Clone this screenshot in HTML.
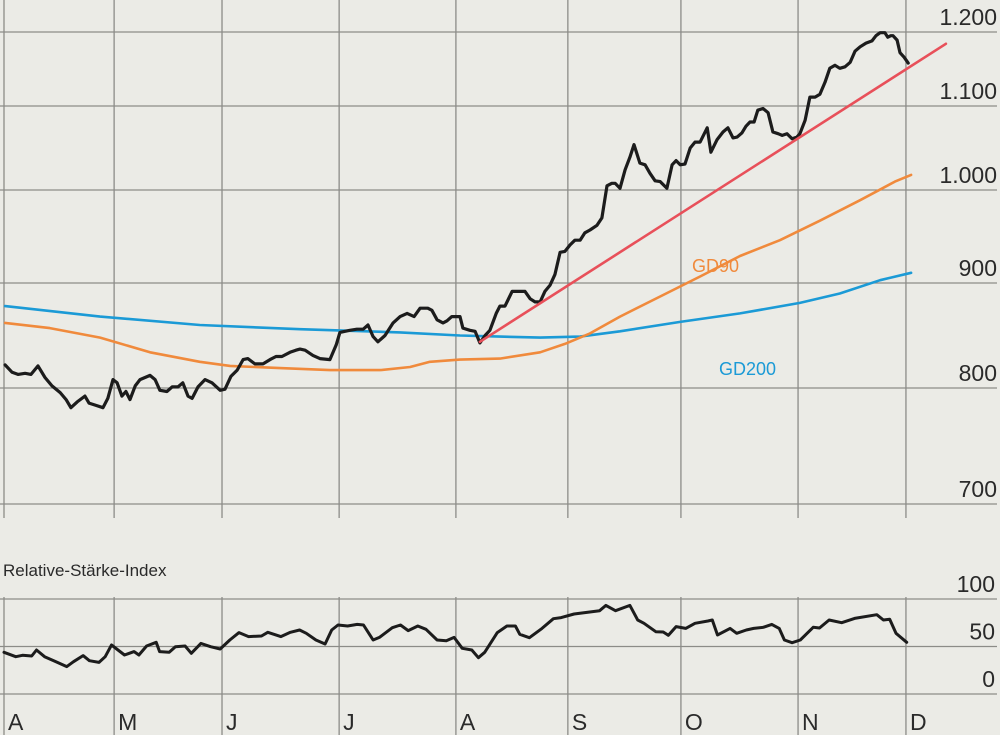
<!DOCTYPE html>
<html><head><meta charset="utf-8"><style>
html,body{margin:0;padding:0;background:#ebebe6;}
svg{display:block;font-family:"Liberation Sans Narrow","Liberation Sans",sans-serif;}
</style></head><body>
<svg id="c" width="1000" height="735" viewBox="0 0 1000 735">
<rect width="1000" height="735" fill="#ebebe6"/>
<g id="grid"></g>
<g id="marks"></g>
<g id="labels"></g>
</svg>
<script>
const priceTicks=[1200,1100,1000,900,800,700];
const priceTickLabels=["1.200","1.100","1.000","900","800","700"];
const months=["A","M","J","J","A","S","O","N","D"];
const monthStartDays=[0,29.8,59,90.7,122.3,152.6,183.2,214.9,244.1];
const rsiTicks=[100,50,0];
const priceDays=[0.3,2.2,3.8,5.7,7.3,9.2,11.1,13,15.2,16.8,18.1,19.8,21.9,23,24.9,26.8,28.1,29.5,30.6,31.9,33,34.1,35.5,36.8,39.5,40.9,42.2,44.1,45.5,47.1,48.4,49.8,50.9,52.5,54.4,56.3,58.5,59.8,61.4,63.1,64.7,66,67.9,70.1,72,73.6,75.2,77.4,79,80.1,81.5,83.6,85.5,88.2,89.9,90.9,92.3,93.6,95.5,97.2,98.5,99.9,101.2,103.1,105.3,107.2,109.1,111,112.6,114.7,115.8,117.2,118.8,119.9,121.2,123.4,124.2,126.1,127.5,128.8,130.2,131.5,133.2,134.2,135.6,137.5,139.6,141,142.4,143.7,145.1,146.4,147.8,149.1,150.5,151.8,153.2,154.5,155.9,157.2,158.6,160.5,161.8,163.2,164.5,165.4,166.7,168.1,169.4,170.5,172.1,173.5,174.8,176.2,177.6,179.4,180.8,181.9,183,184.3,185.7,187,188.4,190.3,191.3,193,194.6,195.9,197.3,198.4,199.7,200.8,201.9,203,204,205.4,206.8,208.1,209.5,210.6,211.9,213.3,214.6,215.4,216.8,218.1,219.5,220.8,222.2,223.5,224.9,226.2,227.6,229,230.3,231.7,233.3,234.9,236,237.1,238.4,239.2,240,240.6,241.7,242.5,243.6,244.7];
const priceValues=[822,815,813,814,813,821,810,802,796,790,783,788,793,787,785,783,791,808,805,793,797,790,802,808,812,808,798,797,801,801,805,793,791,801,808,805,798,799,811,817,827,828,823,823,827,830,830,834,836,837,836,831,828,827,841,853,854,855,856,856,860,849,844,850,862,868,871,868,876,876,874,865,862,864,868,868,857,855,854,843,850,855,871,878,878,892,892,892,885,882,882,892,898,909,933,934,941,946,946,954,957,962,970,1005,1008,1008,1002,1024,1039,1054,1032,1030,1020,1011,1010,1002,1030,1035,1030,1031,1050,1057,1057,1074,1045,1060,1069,1074,1062,1063,1068,1076,1081,1081,1095,1097,1092,1069,1067,1065,1067,1061,1063,1067,1083,1112,1112,1116,1132,1151,1155,1151,1153,1159,1174,1180,1185,1188,1195,1199,1199,1193,1195,1195,1189,1172,1166,1158];
const gd90Days=[0.3,12.4,26,39.5,53,61.2,74.7,88.2,101.8,109.9,115.3,123.4,134.2,145.1,151.8,158.6,166.7,177.5,188.4,199.2,210,220.8,231.7,241.1,245.5];
const gd90Values=[862,857,848,834,825,821,819,817,817,820,825,827,828,834,842,852,868,887,907,929,946,967,989,1010,1018];
const gd200Days=[0.3,26,53,80.1,107.2,123.4,134.2,145.1,155.9,166.7,183,199.2,215.4,226.2,237.1,245.5];
const gd200Values=[878,868,860,856,853,850,849,848,849,854,863,871,881,890,903,911];
const trendDays=[128.8,254.9];
const trendValues=[844,1184];
const rsiDays=[0,3.2,5,7.5,8.8,11,13.6,17,18.8,21.4,23.1,25.7,27.4,29.1,32.6,35.2,36.5,38.6,41.2,42.1,44.7,46.4,49,50.7,53.3,55.9,58.5,61.1,63.6,66.2,69.7,71.4,74.9,77.5,80,81.8,84.4,86.9,88.7,90.4,93,95.6,97.3,99.9,101.6,105.1,107.3,109.4,112,114.2,117.2,119.7,121.8,124,126.6,128.4,130.1,133.5,136.1,138.4,139.6,142.2,145.6,148.7,150.8,154.3,161.2,162.9,165.5,169.4,171.5,173.2,176.4,178.4,179.8,181.9,184.5,187,190.5,191.7,193.1,196.5,198.3,200.9,202.9,205.5,207.8,209.8,211.2,213.3,215.5,219,220.7,223.3,226.7,230.2,236.2,238,239.7,241.4,244.3];
const rsiValues=[43.9,39.3,40.7,40,46.3,39.3,34.7,28.8,34,40.4,35.1,33.3,39.3,51.6,41.1,44.6,41.1,50.5,54.4,44.6,43.9,49.8,50.5,42.8,53.3,49.8,47.4,56.8,64.6,60.4,61.1,64.9,60.4,64.9,67.4,63.9,56.8,52.6,67.4,72.6,71.6,73.3,72.6,56.8,59.6,69.8,72.6,66.7,71.6,68.1,56.8,56.1,59.6,48.1,46.3,38.2,43.9,64.6,71.6,71.6,62.8,59.3,69.1,79.3,80.4,84.2,87.7,93.3,87.7,93.3,77.9,74.4,65.6,65.3,61.8,70.9,69.1,74.4,76.8,77.9,62.1,69.1,63.9,67.4,69.1,70.2,73.3,69.1,56.8,54,56.8,70.2,69.5,77.9,75.1,79.6,83.5,77.9,78.6,63.9,54.4];

const NS="http://www.w3.org/2000/svg";
const tickY=[32,106,190,283,388,504];
function xOf(d){return 4+d*3.695;}
function yPrice(v){
  for(let i=0;i<priceTicks.length-1;i++){
    const a=priceTicks[i],b=priceTicks[i+1];
    if(v<=a&&v>=b||i===priceTicks.length-2||(i===0&&v>a)){
      return tickY[i]+(a-v)/(a-b)*(tickY[i+1]-tickY[i]);
    }
  }
}
function yRsi(v){return 694-v*0.95;}
function mk(tag,attrs,parent,text){const e=document.createElementNS(NS,tag);for(const k in attrs)e.setAttribute(k,attrs[k]);if(text!==undefined)e.textContent=text;parent.appendChild(e);return e;}
const grid=document.getElementById('grid'),marks=document.getElementById('marks'),labels=document.getElementById('labels');
const gc="#8c8c88";
priceTicks.forEach((t,i)=>{
  const y=yPrice(t);
  const l=mk('line',{x1:0,x2:997,y1:y,y2:y,stroke:gc,'stroke-width':1.3},grid);
  
  
  const tx=mk('text',{x:997,y:tickY[i]-7,'text-anchor':'end','font-size':23,fill:'#2a2a2a'},labels,priceTickLabels[i]);
  
  
});
rsiTicks.forEach(t=>{
  const y=yRsi(t);
  const l=mk('line',{x1:0,x2:997,y1:y,y2:y,stroke:gc,'stroke-width':1.3},grid);
  
  
  const tx=mk('text',{x:995,y:y-7,'text-anchor':'end','font-size':23,fill:'#2a2a2a'},labels,String(t));
  
  
});
months.forEach((m,i)=>{
  const x=xOf(monthStartDays[i]);
  const l1=mk('line',{x1:x,x2:x,y1:0,y2:518,stroke:gc,'stroke-width':1.3},grid);
  
  
  const l2=mk('line',{x1:x,x2:x,y1:597,y2:735,stroke:gc,'stroke-width':1.3},grid);
  
  
  const tx=mk('text',{x:x+4,y:730,'font-size':23,fill:'#2a2a2a'},labels,m);
  
  
});
function path(days,vals,yf,color,w,name){
  const d=days.map((dd,i)=>(i?'L':'M')+xOf(dd).toFixed(1)+' '+yf(vals[i]).toFixed(1)).join(' ');
  const p=mk('path',{d:d,fill:'none',stroke:color,'stroke-width':w,'stroke-linejoin':'round','stroke-linecap':'round'},marks);
  
  
}
path(gd200Days,gd200Values,yPrice,'#1b9ad6',2.6,'gd200-line');
path(gd90Days,gd90Values,yPrice,'#f08a3c',2.6,'gd90-line');
path(priceDays,priceValues,yPrice,'#1c1c1c',3.2,'price-line');
path(trendDays,trendValues,yPrice,'#e8505a',2.6,'trend-line');
path(rsiDays,rsiValues,yRsi,'#1c1c1c',3,'rsi-line');
const a=mk('text',{x:692,y:272,'font-size':18,fill:'#f08a3c'},labels,'GD90');


const b=mk('text',{x:719,y:375,'font-size':18,fill:'#1b9ad6'},labels,'GD200');


const r=mk('text',{x:3,y:576,'font-size':17,fill:'#2a2a2a'},labels,'Relative-Stärke-Index');


</script>
</body></html>
